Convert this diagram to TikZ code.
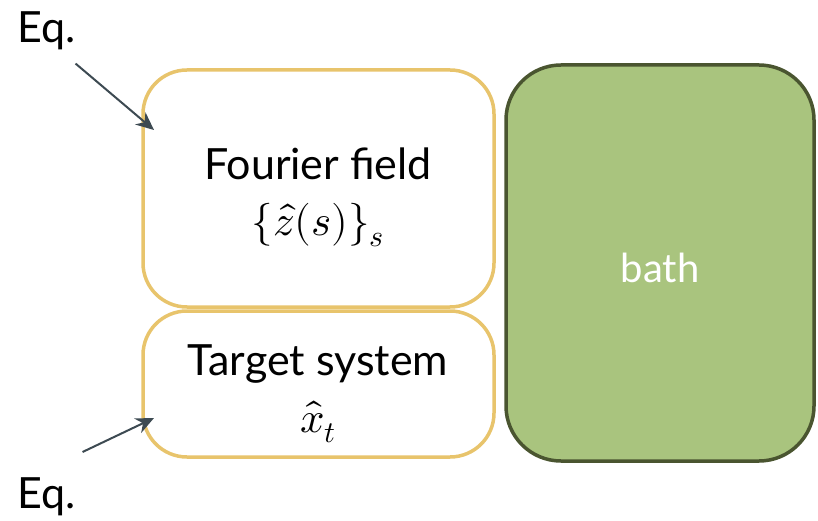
\documentclass[tikz,border=0pt]{standalone}
\usepackage{fontspec}
\usepackage{unicode-math}
\setmainfont{Lato}
\setmathfont{Latin Modern Math}
\usetikzlibrary{arrows.meta}
\definecolor{boxyellow}{HTML}{E8C46C}
\definecolor{bathfill}{HTML}{A9C47E}
\definecolor{bathdraw}{HTML}{4A5530}
\definecolor{arrcol}{HTML}{3D4A52}
\tikzset{
  ybox/.style={draw=boxyellow, line width=3.5pt, rounded corners=44pt, fill=white},
  bathbox/.style={draw=bathdraw, line width=3.5pt, rounded corners=55pt, fill=bathfill},
  lbl/.style={font=\fontsize{43}{48}\selectfont, inner sep=0pt, align=center},
  arr/.style={draw=arrcol, line width=2pt, -{Stealth[length=18pt,width=16pt]}}
}
\begin{document}
\begin{tikzpicture}[x=1pt,y=-1pt]
\useasboundingbox (0,0) rectangle (818,521);
% boxes
\draw[ybox] (143,70) rectangle (494,307);
\draw[ybox] (143,311) rectangle (494,457);
\draw[bathbox] (506,65) rectangle (814,461);
% texts
\node[lbl, anchor=base] (ff) at (318,180) {Fourier field};
\node[lbl, anchor=base] (zs) at (318,236) {$\{\hat z(s)\}_s$};
\node[lbl, anchor=base] (ts) at (318,375) {Target system};
\node[lbl, anchor=base] (xt) at (318,432) {$\hat x_t$};
\node[lbl, anchor=base, text=white, font=\fontsize{40}{46}\selectfont] (bath) at (660,282) {bath};
\node[lbl, anchor=base west] (eq1) at (17,43) {Eq.};
\node[lbl, anchor=base west] (eq2) at (17,508) {Eq.};
% arrows
\coordinate (t1) at (154,130);
\coordinate (t2) at (154,418);
\draw[arr] ([shift={(0,13)}]eq1.south east) -- (t1);
\draw[arr] ([shift={(7,-25)}]eq2.north east) -- (t2);
\end{tikzpicture}
\end{document}
